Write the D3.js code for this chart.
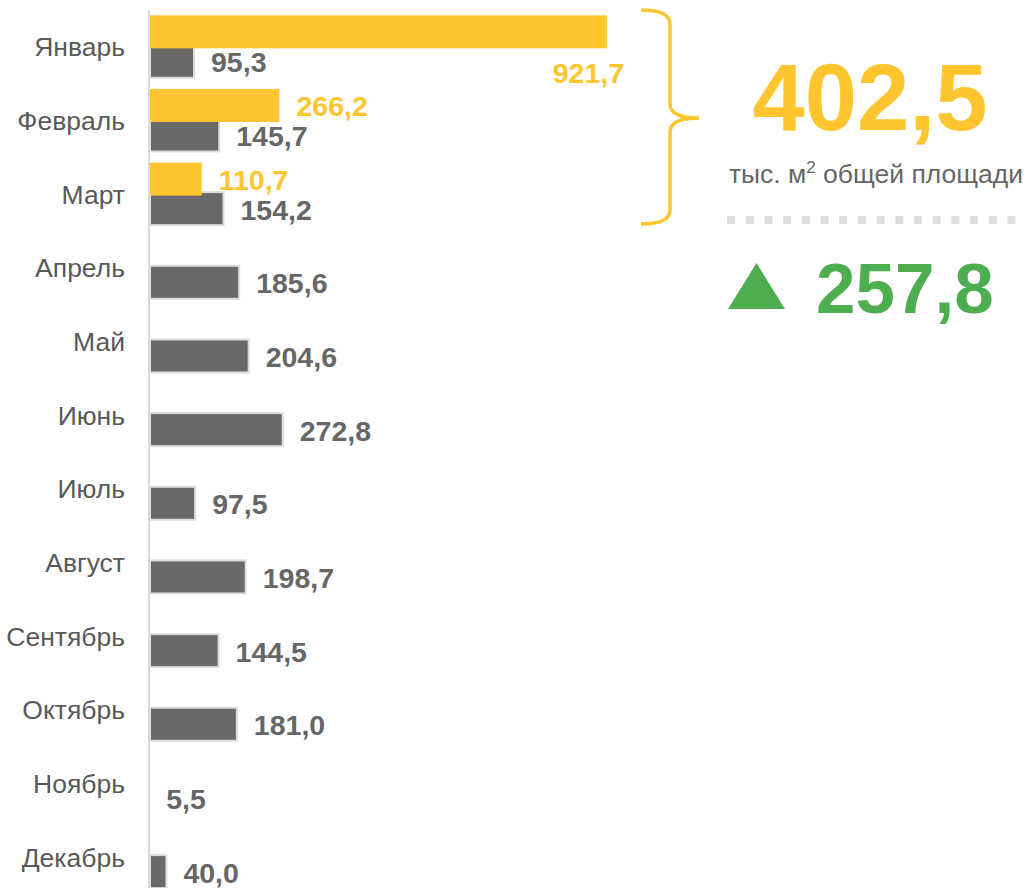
<!DOCTYPE html>
<html>
<head>
<meta charset="utf-8">
<script src="https://cdn.jsdelivr.net/npm/d3@7"></script>
<style>
  html, body { margin: 0; padding: 0; background: #fff; }
  svg { display: block; font-family: "Liberation Sans", Arial, sans-serif; }
</style>
</head>
<body>
<svg id="chart" width="1026" height="888"></svg>
<script>
const months = ["Январь","Февраль","Март","Апрель","Май","Июнь","Июль","Август","Сентябрь","Октябрь","Ноябрь","Декабрь"];
const prevYear = [95.3,145.7,154.2,185.6,204.6,272.8,97.5,198.7,144.5,181.0,5.5,40.0];
const currMonths = ["Январь","Февраль","Март"];
const currYear = [921.7,266.2,110.7];
const totalValue = "402,5";
const unitLabel = "тыс. м";
const unitSup = "2";
const unitRest = " общей площади";
const growthValue = "257,8";

const YELLOW = "#FFC42E", GRAY = "#696969", GREEN = "#4DAE50";
const svg = d3.select("#chart");

const x = d3.scaleLinear().domain([0, 1000]).range([146.4, 646.2]);
const y = d3.scalePoint().domain(months).range([61.3, 871.6]);
const barH = 33, yOff = 29.5, x0 = 150;
const fmt = v => d3.format(".1f")(v).replace(".", ",");

// previous year bars
svg.append("g").selectAll("rect").data(months).join("rect")
  .attr("x", x0)
  .attr("y", m => y(m) - barH / 2)
  .attr("width", (m, i) => Math.max(0, x(prevYear[i]) - x0))
  .attr("height", barH)
  .attr("fill", GRAY)
  .attr("stroke", (m, i) => x(prevYear[i]) - x0 > 0 ? "#dcdcdc" : "none")
  .attr("stroke-width", 2);

// current year bars
svg.append("g").selectAll("rect").data(currMonths).join("rect")
  .attr("x", x0)
  .attr("y", m => y(m) - yOff - barH / 2)
  .attr("width", (m, i) => Math.max(0, x(currYear[i]) - x0))
  .attr("height", barH)
  .attr("fill", YELLOW);

// axis line
svg.append("line").attr("x1", 149).attr("x2", 149).attr("y1", 10).attr("y2", 888)
  .attr("stroke", "#d9d9d9").attr("stroke-width", 2);

// month labels
svg.append("g").selectAll("text").data(months).join("text")
  .attr("x", 125).attr("y", m => y(m) - 14)
  .attr("text-anchor", "end").attr("dominant-baseline", "central")
  .attr("font-size", 26.5).attr("fill", "#595959")
  .text(m => m);

// prev year value labels
svg.append("g").selectAll("text").data(months).join("text")
  .attr("x", (m, i) => x(prevYear[i]) + 17)
  .attr("y", m => y(m) + 1)
  .attr("dominant-baseline", "central")
  .attr("font-size", 28.5).attr("font-weight", "bold").attr("fill", "#666666")
  .text((m, i) => fmt(prevYear[i]));

// current year value labels
svg.append("g").selectAll("text").data(currMonths).join("text")
  .each(function (m, i) {
    const v = currYear[i];
    const t = d3.select(this);
    if (x(v) > 500) {
      t.attr("x", x(v) + 17).attr("y", y(m) + 12).attr("text-anchor", "end");
    } else {
      t.attr("x", x(v) + 17).attr("y", y(m) - yOff + 1);
    }
  })
  .attr("dominant-baseline", "central")
  .attr("font-size", 28.5).attr("font-weight", "bold").attr("fill", YELLOW)
  .text((m, i) => fmt(currYear[i]));

// brace
svg.append("path")
  .attr("d", "M641,10 Q670,10 670,24 L670,104 Q670,118 699,118 Q670,118 670,132 L670,210 Q670,224 641,224")
  .attr("fill", "none").attr("stroke", YELLOW).attr("stroke-width", 3.5);

// big total
svg.append("text").attr("x", 870).attr("y", 130).attr("text-anchor", "middle")
  .attr("font-size", 94).attr("font-weight", "bold").attr("fill", YELLOW).text(totalValue);

const unit = svg.append("text").attr("x", 876).attr("y", 183).attr("text-anchor", "middle")
  .attr("font-size", 26.5).attr("fill", "#666666");
unit.append("tspan").text(unitLabel);
unit.append("tspan").attr("font-size", 17).attr("dy", -10).text(unitSup);
unit.append("tspan").attr("dy", 10).text(unitRest);

// dotted separator
svg.append("line").attr("x1", 727).attr("x2", 1026).attr("y1", 220).attr("y2", 220)
  .attr("stroke", "#dedede").attr("stroke-width", 8).attr("stroke-dasharray", "8 10.7");

// green triangle + number
svg.append("path").attr("d", "M728,309 L756.5,263 L785,309 Z").attr("fill", GREEN);
svg.append("text").attr("x", 816).attr("y", 313)
  .attr("font-size", 71).attr("font-weight", "bold").attr("fill", GREEN).text(growthValue);
</script>
</body>
</html>
